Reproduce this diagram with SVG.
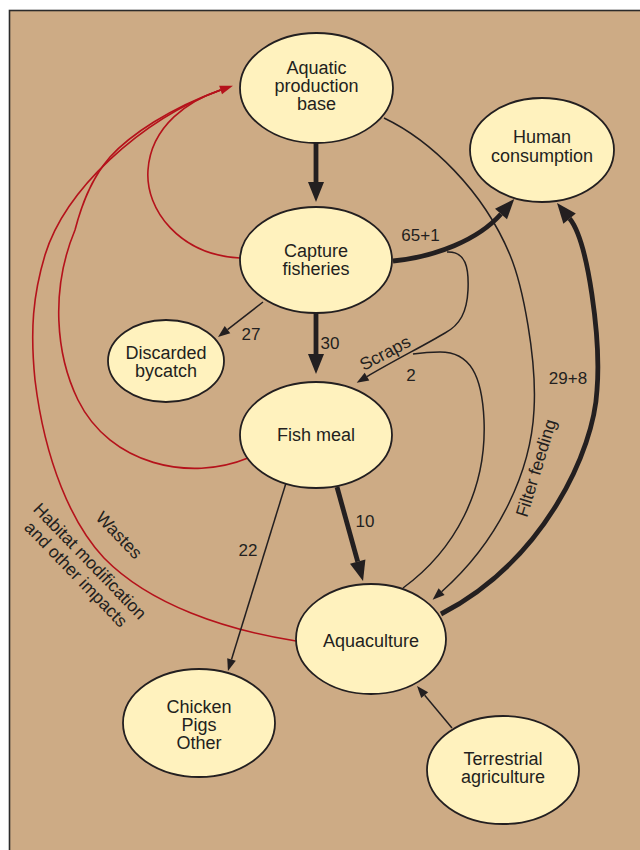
<svg xmlns="http://www.w3.org/2000/svg" width="640" height="850" viewBox="0 0 640 850">
<defs>
<style>
.node ellipse{fill:#fff2be;stroke:#231f20;stroke-width:1.8}
.node text,.lbl{font-family:"Liberation Sans",Arial,sans-serif;fill:#231f20;text-anchor:middle}
.node text{font-size:18px}
.lbl{font-size:17px}
.thick{fill:none;stroke:#231f20;stroke-width:4.8;marker-end:url(#ahThick)}
.thin{fill:none;stroke:#231f20;stroke-width:1.5;marker-end:url(#ahThin)}
.plain{fill:none;stroke:#231f20;stroke-width:1.5}
.red{fill:none;stroke:#b5121b;stroke-width:1.6}
</style>
<marker id="ahThick" markerUnits="userSpaceOnUse" markerWidth="22" markerHeight="18" refX="0" refY="8" orient="auto" overflow="visible">
<path d="M0,0 L20,8 L0,16 Z" fill="#231f20"/>
</marker>
<marker id="ahThin" markerUnits="userSpaceOnUse" markerWidth="14" markerHeight="12" refX="0" refY="4.5" orient="auto" overflow="visible">
<path d="M0,0 L12,4.5 L0,9 Z" fill="#231f20"/>
</marker>
<marker id="ahRed" markerUnits="userSpaceOnUse" markerWidth="15" markerHeight="12" refX="0" refY="4.5" orient="auto" overflow="visible">
<path d="M0,0 L13,4.5 L0,9 Z" fill="#b5121b"/>
</marker>
</defs>
<rect x="0" y="0" width="640" height="850" fill="#ffffff"/>
<rect x="9.5" y="10.5" width="640" height="850" fill="#cdab85" stroke="#2b2b2b" stroke-width="1.6"/>

<g id="connectors">
<!-- red impact lines -->
<path class="red" d="M240,258 C180,255 145,210 148,170 C151,125 190,100 220.6,89.9" marker-end="url(#ahRed)"/>
<path class="red" d="M248,458 C190,482 110,465 78,400 C56,355 50,290 75,230 C81,207 90,180 110,157 C130,135 170,108 220.6,89.9"/>
<path class="red" d="M296,641 C226,630 150,605 104,558 C72,524 45,462 35,380 C30,330 33,295 45,255 C65,190 140,120 220.6,89.9"/>
<!-- black flows -->
<path class="thick" d="M316,143 L316,182"/>
<path class="thick" d="M316,313 L316,354"/>
<path class="thin" d="M263,302 L227.5,329.6"/>
<path class="thick" d="M393,261 C435,257 478,240 501,214"/>
<path class="thin" d="M447,252 C466,251 469,268 468,290 C467,312 460,325 445,333 C425,345 395,360 367,376.6"/>
<path class="plain" d="M403,588 C455,550 487,490 484,420 C482,375 470,352 440,352 C428,352 420,353 413,354"/>
<path class="thin" d="M384,118 C430,140 483,190 510,255 C523,286 537,360 534,410 C531,470 500,540 441.6,591.7"/>
<path class="thick" d="M441,614 C545,560 594,450 597,390 C601,340 588.5,242 569.6,218.6"/>
<path class="thick" d="M337,487 L357.7,561.7"/>
<path class="thin" d="M286,483 L231.5,659.5"/>
<path class="thin" d="M452,728 L424.7,695.2"/>
<!-- labels -->
<text class="lbl" x="420.5" y="241">65+1</text>
<text class="lbl" x="330" y="349">30</text>
<text class="lbl" x="251" y="340">27</text>
<text class="lbl" x="365" y="527">10</text>
<text class="lbl" x="248" y="556">22</text>
<text class="lbl" x="411" y="381">2</text>
<text class="lbl" x="568" y="384">29+8</text>
<text class="lbl" transform="translate(385,353) rotate(-28)" y="6" style="font-size:17.5px">Scraps</text>
<text class="lbl" transform="translate(536,468) rotate(-73)" y="6" style="font-size:17.5px">Filter feeding</text>
<text class="lbl" transform="translate(119,535) rotate(46)" y="6" style="font-size:17.5px">Wastes</text>
<text class="lbl" transform="translate(90,561) rotate(46)" y="6" style="font-size:17.5px">Habitat modification</text>
<text class="lbl" transform="translate(76,574) rotate(46)" y="6" style="font-size:17.5px">and other impacts</text>
</g>

<g id="aquatic" class="node">
<ellipse cx="316.5" cy="88" rx="76.5" ry="55"/>
<text x="316.5" y="74">Aquatic</text>
<text x="316.5" y="92">production</text>
<text x="316.5" y="110">base</text>
</g>
<g id="capture" class="node">
<ellipse cx="316" cy="260" rx="76" ry="53"/>
<text x="316" y="257">Capture</text>
<text x="316" y="275">fisheries</text>
</g>
<g id="human" class="node">
<ellipse cx="542" cy="150" rx="72" ry="52"/>
<text x="542" y="143">Human</text>
<text x="542" y="162">consumption</text>
</g>
<g id="bycatch" class="node">
<ellipse cx="166" cy="361" rx="58" ry="41"/>
<text x="166" y="359">Discarded</text>
<text x="166" y="377">bycatch</text>
</g>
<g id="fishmeal" class="node">
<ellipse cx="316" cy="435" rx="76" ry="53"/>
<text x="316" y="441">Fish meal</text>
</g>
<g id="aquaculture" class="node">
<ellipse cx="371" cy="639" rx="75" ry="55"/>
<text x="371" y="647">Aquaculture</text>
</g>
<g id="livestock" class="node">
<ellipse cx="199" cy="723" rx="76" ry="54"/>
<text x="199" y="713">Chicken</text>
<text x="199" y="731">Pigs</text>
<text x="199" y="749">Other</text>
</g>
<g id="terrestrial" class="node">
<ellipse cx="503" cy="770" rx="76" ry="54"/>
<text x="503" y="765">Terrestrial</text>
<text x="503" y="783">agriculture</text>
</g>
</svg>
